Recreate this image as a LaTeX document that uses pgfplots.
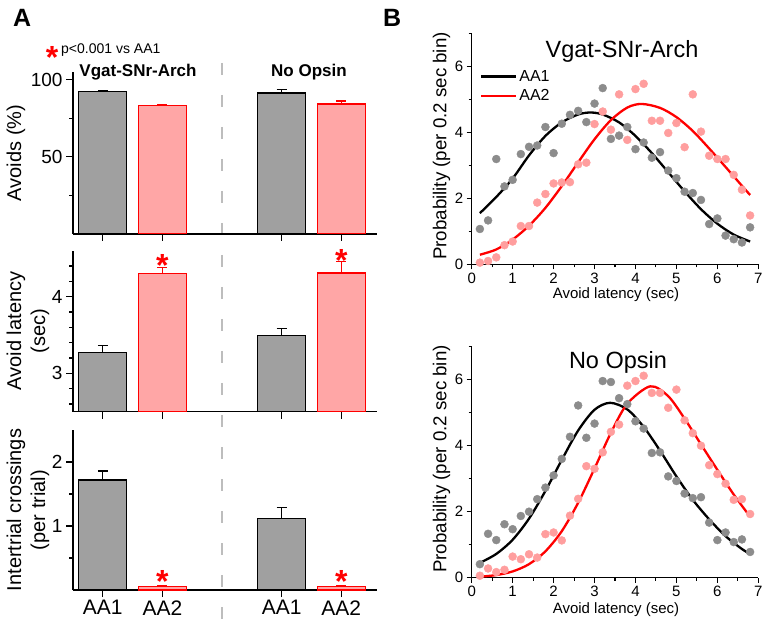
\documentclass[border=0pt]{standalone}
\usepackage{fontspec}
\setmainfont{Liberation Sans}
\usepackage{pgfplots}
\pgfplotsset{compat=1.18}
\definecolor{barGray}{HTML}{A0A0A0}
\definecolor{barPink}{HTML}{FFA6A6}
\definecolor{dotGray}{HTML}{8C8C8C}
\definecolor{dotPink}{HTML}{FF9E9E}
\definecolor{dashGray}{HTML}{BDBDBD}
\newcommand{\fs}[1]{\fontsize{#1}{#1}\selectfont}
\tikzset{redstar/.style={anchor=north, inner sep=0pt, text=red, font=\bfseries\fs{32}}}

\pgfplotsset{
  Apanel/.style={
    scale only axis, width=304pt, anchor=south west,
    xmin=0.5, xmax=5.6,
    axis x line*=bottom, axis y line*=left,
    axis line style={line width=1.2pt, black, -},
    tick style={black, line width=1.2pt},
    major tick length=7pt, minor tick length=4pt,
    tick align=outside,
    xtick={1,2,4,5}, xticklabels={},
    yticklabel style={font=\fs{19}},
    xticklabel style={font=\fs{21}},
    /pgf/number format/assume math mode=true,
    clip mode=individual,
  },
  grayBar/.style={ybar, bar width=48pt, bar shift=0pt, fill=barGray, draw=black, line width=1.2pt,
    error bars/.cd, y dir=plus, y explicit,
    error bar style={line width=1.2pt, black},
    error mark options={rotate=90, mark size=5pt, line width=1.2pt, black}},
  pinkBar/.style={ybar, bar width=48pt, bar shift=0pt, fill=barPink, draw=red, line width=1.2pt,
    error bars/.cd, y dir=plus, y explicit,
    error bar style={line width=1.2pt, red},
    error mark options={rotate=90, mark size=5pt, line width=1.2pt, red}},
  Bpanel/.style={
    scale only axis, width=286.6pt, height=231pt, anchor=south west,
    xmin=0, xmax=7, ymin=0, ymax=7,
    axis x line*=bottom, axis y line*=left,
    axis line style={line width=1.2pt, black, -},
    tick style={black, line width=1.1pt},
    major tick length=5pt, minor tick length=3pt, tick align=outside,
    xtick={0,1,2,3,4,5,6,7}, minor xtick={0.5,1.5,2.5,3.5,4.5,5.5,6.5},
    ytick={0,2,4,6}, minor ytick={1,3,5,7},
    ticklabel style={font=\fs{15}},
    /pgf/number format/assume math mode=true,
    clip=false,
  },
  grayDots/.style={only marks, mark=*, mark size=4pt, color=dotGray, mark options={draw=none, fill=dotGray}, forget plot},
  pinkDots/.style={only marks, mark=*, mark size=4pt, color=dotPink, mark options={draw=none, fill=dotPink}, forget plot},
}

\begin{document}
\begin{tikzpicture}[x=1pt,y=1pt]
\useasboundingbox (0,0) rectangle (766,622);

% panel letters and header
\node[anchor=base west, inner sep=0pt, font=\bfseries\fs{25}] at (13,595) {A};
\node[anchor=base west, inner sep=0pt, font=\bfseries\fs{25}] at (383,595) {B};
\node[redstar] at (52,576) {*};
\node[anchor=base west, inner sep=0pt, font=\fs{14}] at (61,568) {p<0.001 vs AA1};
\node[anchor=base, inner sep=0pt, font=\bfseries\fs{17}] at (138,545) {Vgat-SNr-Arch};
\node[anchor=base, inner sep=0pt, font=\bfseries\fs{17}] at (309,545) {No Opsin};
\draw[dashGray, line width=2pt, dash pattern=on 12pt off 20pt] (222,559) -- (222,0);

% y labels of panel A
\node[rotate=90, align=center, font=\fs{20}] at (16,469) {Avoids (\%)};
\node[rotate=90, align=center, font=\fontsize{20}{24}\selectfont] at (28,291) {Avoid latency\\(sec)};
\node[rotate=90, align=center, font=\fontsize{20}{24}\selectfont] at (28,112) {Intertrial crossings\\(per trial)};

% A top: avoids
\begin{axis}[Apanel, at={(73pt,388pt)}, height=162pt,
  ymin=0, ymax=105, ytick={50,100}, minor ytick={25,75}]
\addplot[grayBar] coordinates {(1,92.4) +- (0,0.7) (4,91.4) +- (0,2.0)};
\addplot[pinkBar] coordinates {(2,83.1) +- (0,1.0) (5,84.2) +- (0,2.0)};
\end{axis}

% A middle: latency
\begin{axis}[Apanel, at={(73pt,210.3pt)}, height=161pt,
  ymin=2.5, ymax=4.6, ytick={3,4}, minor ytick={2.6,2.8,3.2,3.4,3.6,3.8,4.2,4.4}]
\addplot[grayBar] coordinates {(1,3.27) +- (0,0.09) (4,3.49) +- (0,0.10)};
\addplot[pinkBar] coordinates {(2,4.30) +- (0,0.08) (5,4.31) +- (0,0.15)};
\node[redstar] at (axis cs:2,4.55) {*};
\node[redstar] at (axis cs:5,4.62) {*};
\end{axis}

% A bottom: crossings
\begin{axis}[Apanel, at={(73pt,32pt)}, height=160pt,
  ymin=0, ymax=2.5, ytick={1,2}, minor ytick={0.5,1.5},
  xticklabels={AA1,AA2,AA1,AA2}]
\addplot[grayBar] coordinates {(1,1.72) +- (0,0.14) (4,1.12) +- (0,0.17)};
\addplot[pinkBar] coordinates {(2,0.06) +- (0,0.01) (5,0.06) +- (0,0.01)};
\node[redstar] at (axis cs:2,0.31) {*};
\node[redstar] at (axis cs:5,0.31) {*};
\end{axis}

% B labels
\node[rotate=90, font=\fs{18.7}] at (441.5,476) {Probability (per 0.2 sec bin)};
\node[font=\fs{15}] at (616,327.5) {Avoid latency (sec)};
\node[anchor=base, font=\fs{23.5}, inner sep=0pt] at (622,564.5) {Vgat-SNr-Arch};
\node[rotate=90, font=\fs{18.7}] at (441.5,163) {Probability (per 0.2 sec bin)};
\node[font=\fs{15}] at (616,12) {Avoid latency (sec)};
\node[anchor=base, font=\fs{23.5}, inner sep=0pt] at (618,253) {No Opsin};

% B top
\begin{axis}[Bpanel, at={(471.7pt,357.7pt)},
  legend style={draw=none, fill=none, at={(axis cs:0.2,5.95)}, anchor=north west,
    font=\fs{16}, row sep=3pt, inner sep=0pt},
  legend cell align=left,
  legend image code/.code={\draw[#1, line width=2.3pt] (0pt,0pt) -- (35pt,0pt);}]
\addplot[grayDots] coordinates {
(0.2,1.07) (0.4,1.33) (0.6,3.19) (0.8,2.36) (1.0,2.56) (1.2,3.34) (1.4,3.56) (1.6,3.60)
(1.8,4.16) (2.0,3.37) (2.2,4.26) (2.4,4.53) (2.6,4.65) (2.8,4.31) (3.0,4.87) (3.2,5.34)
(3.4,3.80) (3.6,3.90) (3.8,4.16) (4.0,3.49) (4.2,3.69) (4.4,3.23) (4.6,3.40) (4.8,2.84)
(5.0,2.61) (5.2,2.20) (5.4,2.16) (5.6,1.95) (5.8,1.22) (6.0,1.39) (6.2,0.87) (6.4,0.76)
(6.6,0.66) (6.8,1.12)};
\addplot[pinkDots] coordinates {
(0.2,0.05) (0.4,0.10) (0.6,0.21) (0.8,0.58) (1.0,0.69) (1.2,1.16) (1.4,1.16) (1.6,1.87)
(1.8,2.13) (2.0,2.45) (2.2,2.48) (2.4,2.49) (2.6,3.03) (2.8,3.08) (3.0,4.25) (3.2,4.63)
(3.4,4.08) (3.6,5.15) (3.8,3.77) (4.0,5.31) (4.2,5.47) (4.4,4.35) (4.6,4.35) (4.8,3.98)
(5.0,4.28) (5.2,3.55) (5.4,5.15) (5.6,4.02) (5.8,3.29) (6.0,3.19) (6.2,3.19) (6.4,2.71)
(6.6,2.26) (6.8,1.48)};
\addplot[black, line width=2.3pt, smooth] coordinates {
(0.2,1.55) (0.6,2.04) (1.0,2.60) (1.4,3.30) (1.8,3.89) (2.2,4.30) (2.6,4.54) (2.9,4.60)
(3.2,4.54) (3.6,4.30) (4.0,3.89) (4.4,3.37) (4.8,2.79) (5.2,2.21) (5.6,1.67) (6.0,1.23)
(6.4,0.90) (6.8,0.69)};
\addlegendentry{AA1}
\addplot[red, line width=2.3pt, smooth] coordinates {
(0.2,0.29) (0.6,0.45) (1.0,0.75) (1.4,1.17) (1.8,1.71) (2.2,2.37) (2.6,3.09) (3.0,3.79)
(3.4,4.37) (3.8,4.75) (4.15,4.86) (4.6,4.74) (5.0,4.46) (5.4,4.04) (5.8,3.51) (6.2,2.95)
(6.6,2.38) (6.8,2.10)};
\addlegendentry{AA2}
\end{axis}

% B bottom
\begin{axis}[Bpanel, at={(471.7pt,44.3pt)}]
\addplot[grayDots] coordinates {
(0.2,0.41) (0.4,1.33) (0.6,1.14) (0.8,1.62) (1.0,1.47) (1.2,1.87) (1.4,2.00) (1.6,2.38)
(1.8,2.73) (2.0,3.10) (2.2,3.60) (2.4,4.27) (2.6,5.22) (2.8,4.24) (3.0,4.67) (3.2,5.96)
(3.4,5.93) (3.6,5.44) (3.8,5.26) (4.0,4.74) (4.2,4.52) (4.4,3.78) (4.6,3.80) (4.8,3.07)
(5.0,2.93) (5.2,2.55) (5.4,2.41) (5.6,2.44) (5.8,1.67) (6.0,1.14) (6.2,1.37) (6.4,1.08)
(6.6,1.16) (6.8,0.78)};
\addplot[pinkDots] coordinates {
(0.2,0.06) (0.4,0.28) (0.6,0.17) (0.8,0.24) (1.0,0.64) (1.2,0.56) (1.4,0.71) (1.6,0.61)
(1.8,1.32) (2.0,1.37) (2.2,1.13) (2.4,1.88) (2.6,2.39) (2.8,3.38) (3.0,3.30) (3.2,3.80)
(3.4,4.42) (3.6,4.64) (3.8,5.82) (4.0,5.96) (4.2,6.12) (4.4,5.60) (4.6,5.60) (4.8,5.15)
(5.0,5.70) (5.2,4.77) (5.4,4.38) (5.6,4.00) (5.8,3.41) (6.0,3.14) (6.2,2.85) (6.4,2.36)
(6.6,2.38) (6.8,1.93)};
\addplot[black, line width=2.3pt, smooth] coordinates {
(0.2,0.45) (0.6,0.72) (1.0,1.15) (1.4,1.79) (1.8,2.63) (2.2,3.57) (2.6,4.46) (3.0,5.09)
(3.38,5.30) (3.8,5.10) (4.2,4.57) (4.6,3.85) (5.0,3.07) (5.4,2.36) (5.8,1.77) (6.2,1.26)
(6.6,0.87) (6.8,0.72)};
\addplot[red, line width=2.3pt, smooth] coordinates {
(0.2,0.03) (0.6,0.08) (1.0,0.19) (1.4,0.41) (1.8,0.80) (2.2,1.41) (2.6,2.27) (3.0,3.31)
(3.4,4.39) (3.8,5.27) (4.36,5.80) (4.8,5.50) (5.2,4.82) (5.6,4.04) (6.0,3.27) (6.4,2.52)
(6.8,1.85)};
\end{axis}
\end{tikzpicture}
\end{document}
